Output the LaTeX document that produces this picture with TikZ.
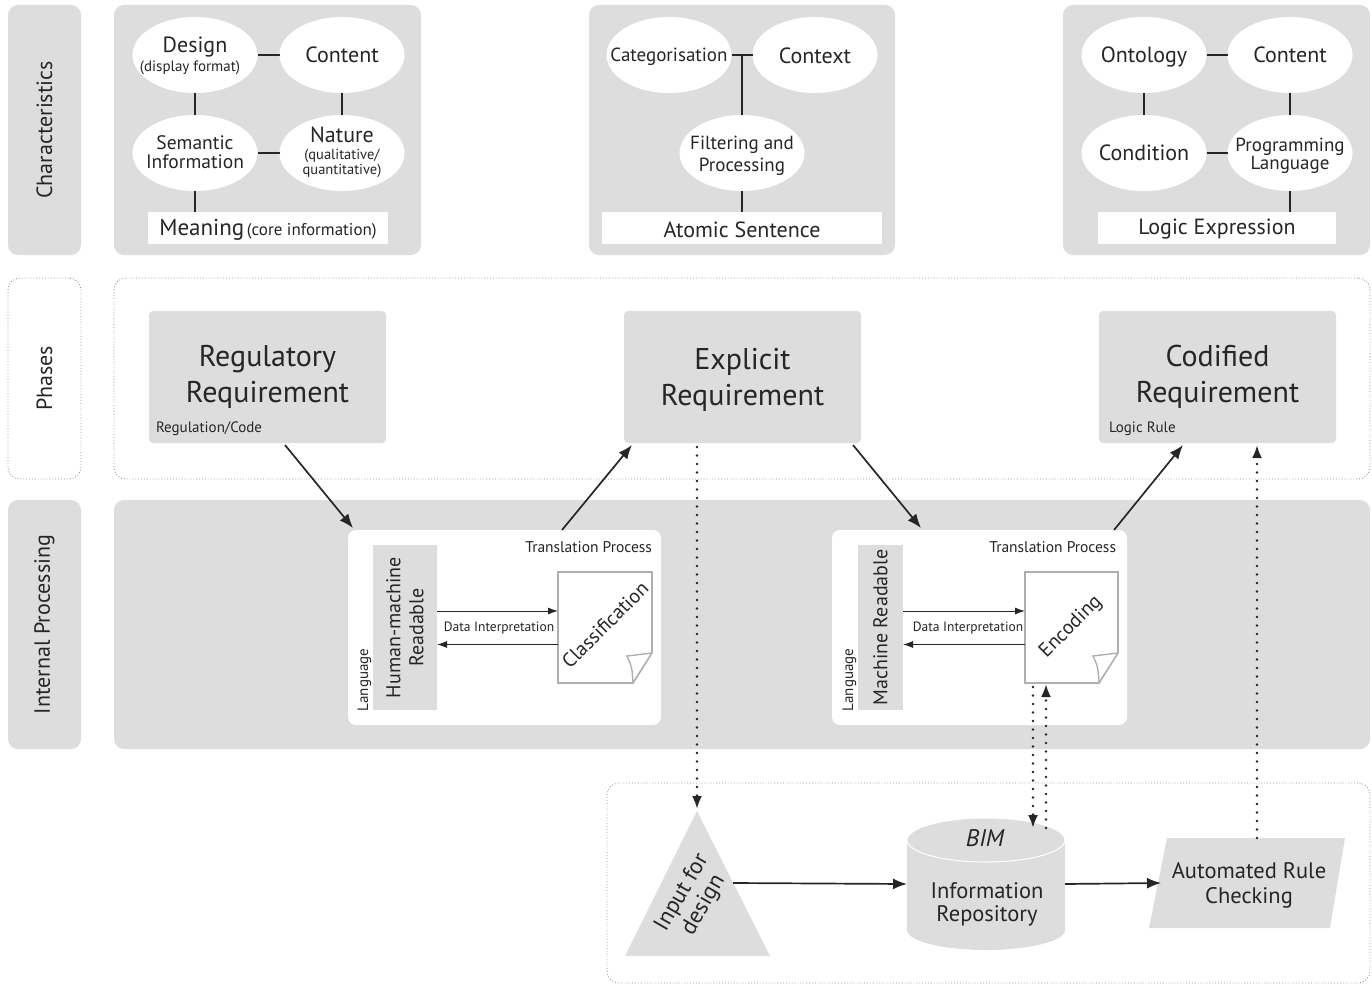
\documentclass[tikz,border=0pt]{standalone}
\usepackage{fontspec}
\setmainfont{PT Sans}
\usetikzlibrary{shapes.geometric,arrows.meta,calc}
\definecolor{panel}{RGB}{221,221,221}
\definecolor{ink}{RGB}{38,38,38}
\definecolor{docline}{RGB}{175,175,175}
\definecolor{dotline}{RGB}{150,150,150}
\newcommand\fs[2]{\fontsize{#1}{#2}\selectfont}
\begin{document}
\begin{tikzpicture}[x=1pt,y=-1pt,
  every node/.style={text=ink, inner sep=0pt, outer sep=0pt},
  panelbox/.style={fill=panel, rounded corners=10pt},
  dotbox/.style={draw=dotline, dotted, line width=0.9pt, rounded corners=12pt},
  ell/.style={ellipse, fill=white, minimum width=125pt, minimum height=76pt},
  conn/.style={draw=ink, line width=1.2pt},
  bigarrow/.style={draw=ink, line width=1.7pt, -{Latex[length=14pt,width=11pt]}},
  thinarrow/.style={draw=ink, line width=1pt, -{Latex[length=10pt,width=7pt]}},
  dotarrow/.style={draw=ink, line width=2.6pt, line cap=round, dash pattern=on 0pt off 8.5pt, -{Latex[length=13pt,width=10pt]}},
  wbox/.style={fill=white, minimum height=32pt},
  phasebox/.style={fill=panel, rounded corners=4pt, minimum width=237pt, minimum height=132pt},
  big/.style={font=\fs{22}{26}},
  mid/.style={font=\fs{19}{22}},
  small/.style={font=\fs{15}{16}},
  huge/.style={font=\fs{30}{36}, align=center},
]
\useasboundingbox (0,0) rectangle (1372,984);

% ---------- left column labels ----------
\node[panelbox, minimum width=73pt, minimum height=250pt] (lc) at (44.5,130) {};
\node[big, rotate=90] (lct) at (lc) {Characteristics};
\node[dotbox, minimum width=73pt, minimum height=201pt] (lp) at (44.5,378.5) {};
\node[big, rotate=90] (lpt) at (lp) {Phases};
\node[panelbox, minimum width=73pt, minimum height=249pt] (li) at (44.5,624.5) {};
\node[big, rotate=90] (lit) at (li) {Internal Processing};

% ---------- big backgrounds ----------
\node[dotbox, minimum width=1256pt, minimum height=201pt] (phases) at (742,378.5) {};
\node[panelbox, minimum width=1256pt, minimum height=249pt] (internal) at (742,624.5) {};
\node[dotbox, minimum width=763pt, minimum height=200pt] (bottom) at (988.5,883) {};

% ---------- characteristic panels ----------
\node[panelbox, minimum width=307pt, minimum height=250pt] (p1) at (267.5,130) {};
\node[panelbox, minimum width=306pt, minimum height=250pt] (p2) at (742,130) {};
\node[panelbox, minimum width=307pt, minimum height=250pt] (p3) at (1216.5,130) {};

% panel 1
\node[ell] (design) at (195,55) {};
\node[ell] (content1) at (342,55) {};
\node[ell] (seman) at (195,153) {};
\node[ell] (nature) at (342,153) {};
\node[wbox, minimum width=240pt] (meaning) at (268,228) {};
\draw[conn] (design) -- (content1);
\draw[conn] (design) -- (seman);
\draw[conn] (content1) -- (nature);
\draw[conn] (seman) -- (nature);
\draw[conn] (seman) -- (seman |- meaning.north);
\node[big, anchor=base] (designt) at (195,53) {Design};
\node[small, anchor=base] (designs) at (190,72) {(display format)};
\node[big, anchor=base] (content1t) at (342,63) {Content};
\node[font=\fs{19.5}{19}, anchor=base, align=center] (semant) at (195,169) {Semantic\\Information};
\node[big, anchor=base] (naturet) at (342,143) {Nature};
\node[font=\fs{14.5}{15}, anchor=base, align=center] (natures) at (342,175) {(qualitative/\\quantitative)};
\node[anchor=base] (meaningt) at (268,236) {{\fs{23}{26}Meaning} {\fs{17}{20}(core information)}};

% panel 2
\node[ell] (cat) at (669,55) {};
\node[ell] (ctx) at (815,55) {};
\node[ell] (filt) at (742,153) {};
\node[wbox, minimum width=280pt] (atomic) at (742,228) {};
\draw[conn] (cat) -- (ctx);
\draw[conn] (filt) -- (filt |- cat);
\draw[conn] (filt) -- (atomic);
\node[mid, anchor=base] (catt) at (669,62) {Categorisation};
\node[big, anchor=base] (ctxt) at (815,64) {Context};
\node[mid, anchor=base, align=center] (filtt) at (742,172) {Filtering and\\Processing};
\node[big, anchor=base] (atomict) at (742,237) {Atomic Sentence};

% panel 3
\node[ell] (onto) at (1144,55) {};
\node[ell] (content3) at (1290,55) {};
\node[ell] (cond) at (1144,153) {};
\node[ell] (prog) at (1290,153) {};
\node[wbox, minimum width=238pt] (logic) at (1217,228) {};
\draw[conn] (onto) -- (content3);
\draw[conn] (onto) -- (cond);
\draw[conn] (content3) -- (prog);
\draw[conn] (cond) -- (prog);
\draw[conn] (prog) -- (prog |- logic.north);
\node[big, anchor=base] (ontot) at (1144,63) {Ontology};
\node[big, anchor=base] (content3t) at (1290,63) {Content};
\node[big, anchor=base] (condt) at (1144,161) {Condition};
\node[font=\fs{19}{18}, anchor=base, align=center] (progt) at (1290,170) {Programming\\Language};
\node[big, anchor=base] (logict) at (1217,235) {Logic Expression};

% ---------- phases ----------
\node[phasebox] (reg) at (267.5,377) {};
\node[huge] (regt) at (267.5,377) {Regulatory\\Requirement};
\node[small, anchor=base west] (regs) at (156,432) {Regulation/Code};
\node[phasebox] (expl) at (742.5,377) {};
\node[huge] (explt) at (742.5,380) {Explicit\\Requirement};
\node[phasebox] (cod) at (1217.5,377) {};
\node[huge] (codt) at (1217.5,377) {Codified\\Requirement};
\node[small, anchor=base west] (cods) at (1109,432) {Logic Rule};

% ---------- internal processing ----------
\node[fill=white, rounded corners=8pt, minimum width=313pt, minimum height=195pt] (lb) at (504.5,627.5) {};
\node[fill=white, rounded corners=8pt, minimum width=295pt, minimum height=195pt] (rb) at (979.5,627.5) {};

\node[fill=panel, minimum width=64pt, minimum height=165pt] (hm) at (405,627.5) {};
\node[font=\fs{20}{23}, rotate=90, align=center] (hmt) at (hm) {Human-machine\\Readable};
\node[font=\fs{15}{16}, rotate=90, anchor=base west] (lang1) at (368,711) {Language};
\node[font=\fs{15.5}{16}, anchor=base east] (tp1) at (652,552) {Translation Process};
\node[minimum width=94pt, minimum height=111pt] (cls) at (605,627.5) {};
\draw[docline, line width=1.6pt, fill=white] (cls.north west) -- (cls.north east) -- ([yshift=30pt]cls.south east) -- ([xshift=-19pt]cls.south east) -- (cls.south west) -- cycle;
\draw[docline, line width=1.4pt] ([yshift=30pt]cls.south east) -- ([xshift=-25pt,yshift=27pt]cls.south east) .. controls ([xshift=-20pt,yshift=16pt]cls.south east) .. ([xshift=-19pt]cls.south east);
\node[font=\fs{20}{23}, rotate=45] (clst) at (605,625) {Classification};
\draw[thinarrow] ([yshift=16.5pt]hm.east) -- ([yshift=16.5pt]cls.west);
\draw[thinarrow] ([yshift=-17pt]cls.west) -- ([yshift=-17pt]hm.east);
\node[font=\fs{13.5}{16}] (di1) at (499,628) {Data Interpretation};

\node[fill=panel, minimum width=45pt, minimum height=165pt] (mr) at (880.5,627.5) {};
\node[font=\fs{20}{23}, rotate=90] (mrt) at (mr) {Machine Readable};
\node[font=\fs{15}{16}, rotate=90, anchor=base west] (lang2) at (853,711) {Language};
\node[font=\fs{15.5}{16}, anchor=base east] (tp2) at (1116,552) {Translation Process};
\node[minimum width=93pt, minimum height=111pt] (enc) at (1071.5,627.5) {};
\draw[docline, line width=1.6pt, fill=white] (enc.north west) -- (enc.north east) -- ([yshift=30pt]enc.south east) -- ([xshift=-19pt]enc.south east) -- (enc.south west) -- cycle;
\draw[docline, line width=1.4pt] ([yshift=30pt]enc.south east) -- ([xshift=-25pt,yshift=27pt]enc.south east) .. controls ([xshift=-20pt,yshift=16pt]enc.south east) .. ([xshift=-19pt]enc.south east);
\node[font=\fs{20}{23}, rotate=45] (enct) at (1071,627) {Encoding};
\draw[thinarrow] ([yshift=16.5pt]mr.east) -- ([yshift=16.5pt]enc.west);
\draw[thinarrow] ([yshift=-17pt]enc.west) -- ([yshift=-17pt]mr.east);
\node[font=\fs{13.5}{16}] (di2) at (968,628) {Data Interpretation};

% big arrows
\draw[bigarrow] ([xshift=17.5pt,yshift=-2pt]reg.south) -- ([xshift=5pt,yshift=2pt]lb.north west);
\draw[bigarrow] ([xshift=57.5pt]lb.north) -- ([xshift=8pt,yshift=-2pt]expl.south west);
\draw[bigarrow] ([xshift=-8pt,yshift=-2pt]expl.south east) -- ([xshift=89pt,yshift=2pt]rb.north west);
\draw[bigarrow] ([xshift=-13pt]rb.north east) -- ([xshift=84pt,yshift=-2pt]cod.south west);

% ---------- bottom ----------
\fill[panel] (697,811) -- (770,956) -- (625,956) -- cycle;
\coordinate (triapex) at (697,809);
\coordinate (triright) at (733,883);
\node[font=\fs{23}{25}, rotate=60, align=center] (trit) at (693,899) {Input for\\design};

\node[minimum width=158pt, minimum height=112pt] (cyl) at (986,884) {};
\fill[panel] (986,930) ellipse (79 and 20);
\fill[panel] (907,840) rectangle (1065,930);
\fill[panel] (986,840) ellipse (79 and 22);
\draw[white, line width=1pt] (986,840) ellipse (79 and 22);
\node[font=\itshape\fs{24}{26}, anchor=base] (bim) at (985,846) {BIM};
\node[font=\fs{22.5}{23}, anchor=base, align=center] (cylt) at (987,921) {Information\\Repository};
\coordinate (cyldown) at (1033,828);
\coordinate (cylup) at (1046,828);

\node[minimum width=180pt, minimum height=90pt] (arc) at (1249,883) {};
\fill[panel] (1167,838) -- (1345,838) -- (1330,928) -- (1149,928) -- cycle;
\node[font=\fs{22.5}{25}, anchor=base, align=center] (arct) at (1249,903) {Automated Rule\\Checking};
\coordinate (arctop) at (1257,838);
\coordinate (arcleft) at (1161,883);

\draw[bigarrow] (triright) -- (cyl.west);
\draw[bigarrow] (cyl.east) -- (arcleft);

% dotted arrows
\draw[dotarrow] (triapex |- expl.south) ++(0,4) -- (triapex);
\draw[dotarrow] ([xshift=-38.5pt,yshift=-4pt]enc.south) -- (cyldown);
\draw[dotarrow] (cylup) -- ([xshift=-25.5pt,yshift=-1pt]enc.south);
\draw[dotarrow] (arctop) -- ([yshift=-2pt]arctop |- cod.south);
\end{tikzpicture}
\end{document}
